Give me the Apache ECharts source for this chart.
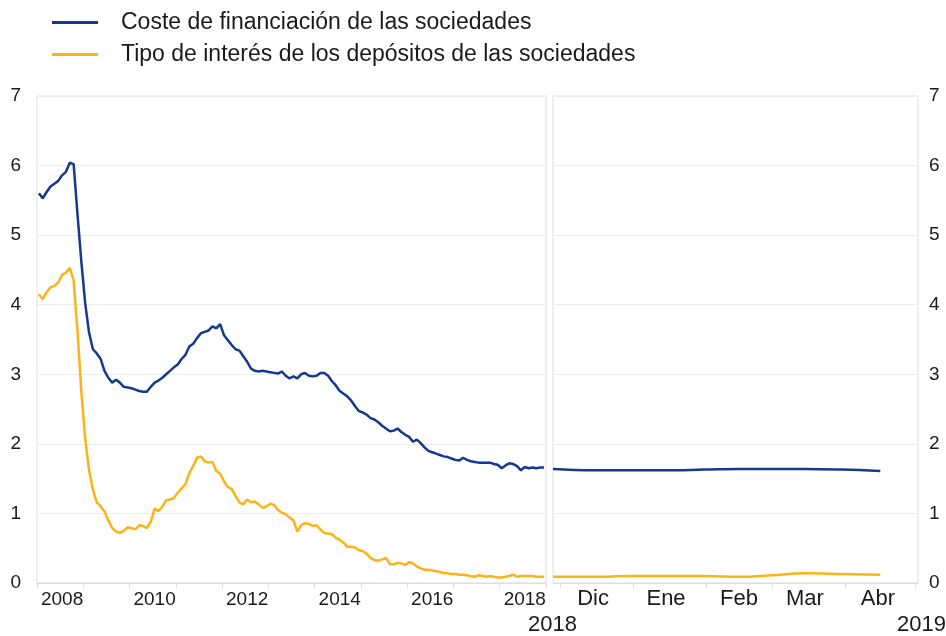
<!DOCTYPE html>
<html>
<head>
<meta charset="utf-8">
<script src="https://cdn.jsdelivr.net/npm/echarts@6/dist/echarts.min.js"></script>
<style>
  html, body { margin: 0; padding: 0; background: #ffffff; }
  #chart { width: 946px; height: 636px; }
</style>
</head>
<body>
<div id="chart"></div>
<script>
// Monthly series, January 2008 to December 2018 (percentages)
const firstYear = 2008;
const lastYear = 2018;

const costFinancing = [
  5.60, 5.53, 5.62, 5.70, 5.74, 5.78, 5.86, 5.91, 6.04, 6.02, 5.30, 4.62,
  4.02, 3.60, 3.36, 3.30, 3.22, 3.05, 2.95, 2.88, 2.92, 2.88, 2.82, 2.81,
  2.80, 2.78, 2.76, 2.75, 2.75, 2.82, 2.88, 2.91, 2.95, 3.00, 3.05, 3.10,
  3.14, 3.22, 3.28, 3.40, 3.44, 3.52, 3.59, 3.61, 3.63, 3.69, 3.66, 3.72,
  3.56, 3.49, 3.42, 3.36, 3.34, 3.26, 3.18, 3.08, 3.05, 3.04, 3.05, 3.04,
  3.03, 3.02, 3.01, 3.04, 2.98, 2.94, 2.97, 2.94, 3.00, 3.02, 2.98, 2.97,
  2.98, 3.02, 3.02, 2.98, 2.90, 2.84, 2.76, 2.72, 2.68, 2.62, 2.54, 2.47,
  2.45, 2.42, 2.37, 2.35, 2.31, 2.26, 2.22, 2.18, 2.19, 2.22, 2.17, 2.13,
  2.10, 2.03, 2.06, 2.01, 1.95, 1.90, 1.88, 1.86, 1.84, 1.82, 1.81, 1.79,
  1.77, 1.76, 1.80, 1.77, 1.75, 1.74, 1.73, 1.73, 1.73, 1.73, 1.71, 1.70,
  1.65, 1.69, 1.72, 1.71, 1.68, 1.62, 1.67, 1.65, 1.66, 1.65, 1.66, 1.66
];

const depositRate = [
  4.15, 4.08, 4.18, 4.25, 4.27, 4.32, 4.43, 4.46, 4.53, 4.35, 3.62, 2.75,
  2.08, 1.62, 1.34, 1.16, 1.10, 1.03, 0.90, 0.79, 0.74, 0.72, 0.75, 0.80,
  0.79, 0.77, 0.83, 0.82, 0.79, 0.88, 1.07, 1.03, 1.10, 1.19, 1.20, 1.22,
  1.30, 1.36, 1.42, 1.58, 1.68, 1.80, 1.82, 1.75, 1.73, 1.74, 1.61, 1.57,
  1.46, 1.38, 1.35, 1.25, 1.16, 1.13, 1.20, 1.16, 1.17, 1.13, 1.08, 1.10,
  1.14, 1.12, 1.05, 1.01, 0.99, 0.94, 0.90, 0.74, 0.83, 0.86, 0.85, 0.82,
  0.83, 0.77, 0.72, 0.71, 0.70, 0.65, 0.62, 0.58, 0.52, 0.52, 0.51, 0.47,
  0.46, 0.42, 0.36, 0.33, 0.32, 0.34, 0.36, 0.27, 0.27, 0.29, 0.28, 0.26,
  0.30, 0.28, 0.24, 0.21, 0.19, 0.19, 0.18, 0.17, 0.16, 0.14, 0.14, 0.13,
  0.13, 0.12, 0.12, 0.11, 0.10, 0.09, 0.11, 0.10, 0.09, 0.10, 0.09, 0.08,
  0.08, 0.09, 0.10, 0.12, 0.09, 0.10, 0.10, 0.10, 0.10, 0.09, 0.09, 0.09
];

// Recent observations, end of November 2018 to mid-April 2019
const recentDates = [
  '2018-11-28', '2018-12-15', '2018-12-31', '2019-01-15', '2019-01-31',
  '2019-02-15', '2019-03-01', '2019-03-15', '2019-03-31', '2019-04-16'
];
const recentCost    = [1.64, 1.62, 1.62, 1.62, 1.63, 1.64, 1.64, 1.64, 1.63, 1.61];
const recentDeposit = [0.09, 0.09, 0.10, 0.10, 0.10, 0.09, 0.11, 0.14, 0.13, 0.12];

// Labels for the recent panel
const monthLabelDates = ['2018-12-15', '2019-01-15', '2019-02-15', '2019-03-15', '2019-04-15'];
const monthLabelNames = ['Dic', 'Ene', 'Feb', 'Mar', 'Abr'];
const monthStartDates = ['2018-12-01', '2019-01-01', '2019-02-01', '2019-03-01', '2019-04-01', '2019-05-01'];

const seriesNames = [
  'Coste de financiación de las sociedades',
  'Tipo de interés de los depósitos de las sociedades'
];

const BLUE = '#17388f';
const YELLOW = '#fbb417';
const GRID_LINE = '#ececec';
const BORDER = '#dedede';
const TEXT = '#1a1a1a';
const FONT = 'Liberation Sans, Arial, sans-serif';

// Month categories for the long-run panel
const monthCats = [];
for (let y = firstYear; y <= lastYear; y++) {
  for (let m = 1; m <= 12; m++) {
    monthCats.push(y + '-' + String(m).padStart(2, '0'));
  }
}

// Recent panel uses a numeric axis in days (UTC timestamps / 1 day)
const DAY = 86400000;
const toDay = s => Math.round(new Date(s + 'T00:00:00Z').getTime() / DAY);
const recentDays = recentDates.map(toDay);
const labelDays = monthLabelDates.map(toDay);

const chart = echarts.init(document.getElementById('chart'), null, { renderer: 'canvas' });

chart.setOption({
  backgroundColor: '#ffffff',
  animation: false,
  textStyle: { fontFamily: FONT },
  legend: {
    orient: 'vertical',
    left: 47,
    top: 6,
    itemWidth: 46,
    itemHeight: 3,
    itemGap: 9,
    icon: 'rect',
    data: seriesNames,
    textStyle: { fontSize: 23, color: TEXT, fontFamily: FONT, padding: [0, 0, 0, 18] }
  },
  grid: [
    { left: 37, top: 96, width: 509, height: 487, show: true, borderColor: BORDER, borderWidth: 1 },
    { left: 553, top: 96, width: 365, height: 487, show: true, borderColor: BORDER, borderWidth: 1 }
  ],
  xAxis: [
    {
      type: 'category',
      gridIndex: 0,
      data: monthCats,
      boundaryGap: true,
      axisLine: { lineStyle: { color: BORDER } },
      axisTick: {
        show: true,
        interval: i => i % 12 === 0,
        length: 5,
        lineStyle: { color: BORDER }
      },
      axisLabel: {
        interval: i => i % 24 === 6,
        formatter: v => v.slice(0, 4),
        fontSize: 19,
        color: TEXT,
        margin: 7
      },
      splitLine: { show: false }
    },
    {
      type: 'value',
      gridIndex: 1,
      min: toDay('2018-11-28'),
      max: toDay('2019-05-02'),
      axisLine: { lineStyle: { color: BORDER } },
      axisTick: {
        show: true,
        customValues: monthStartDates.map(toDay),
        length: 5,
        lineStyle: { color: BORDER }
      },
      axisLabel: {
        customValues: labelDays,
        formatter: v => {
          const i = labelDays.indexOf(v);
          return i >= 0 ? monthLabelNames[i] : '';
        },
        fontSize: 22,
        color: TEXT,
        margin: 5,
        showMinLabel: true,
        showMaxLabel: true,
        hideOverlap: false
      },
      splitLine: { show: false }
    }
  ],
  yAxis: [
    {
      type: 'value',
      gridIndex: 0,
      min: 0,
      max: 7,
      interval: 1,
      position: 'left',
      axisLine: { show: false },
      axisTick: { show: false },
      axisLabel: { fontSize: 19, color: TEXT, margin: 16 },
      splitLine: { lineStyle: { color: GRID_LINE, width: 1 } }
    },
    {
      type: 'value',
      gridIndex: 1,
      min: 0,
      max: 7,
      interval: 1,
      position: 'right',
      axisLine: { show: false },
      axisTick: { show: false },
      axisLabel: { fontSize: 19, color: TEXT, margin: 11 },
      splitLine: { lineStyle: { color: GRID_LINE, width: 1 } }
    }
  ],
  series: [
    {
      name: seriesNames[0], type: 'line', xAxisIndex: 0, yAxisIndex: 0,
      data: costFinancing, showSymbol: false, color: BLUE,
      lineStyle: { width: 2.5, color: BLUE }, z: 3
    },
    {
      name: seriesNames[1], type: 'line', xAxisIndex: 0, yAxisIndex: 0,
      data: depositRate, showSymbol: false, color: YELLOW,
      lineStyle: { width: 2.5, color: YELLOW }, z: 2
    },
    {
      name: seriesNames[0], type: 'line', xAxisIndex: 1, yAxisIndex: 1,
      data: recentDays.map((d, i) => [d, recentCost[i]]),
      showSymbol: false, smooth: 0.4, color: BLUE,
      lineStyle: { width: 2.5, color: BLUE }, z: 3
    },
    {
      name: seriesNames[1], type: 'line', xAxisIndex: 1, yAxisIndex: 1,
      data: recentDays.map((d, i) => [d, recentDeposit[i]]),
      showSymbol: false, smooth: 0.4, color: YELLOW,
      lineStyle: { width: 2.5, color: YELLOW }, z: 2
    }
  ],
  graphic: [
    {
      type: 'text', left: 553 - 25, top: 614,
      style: { text: '2018', fontSize: 22, fill: TEXT, fontFamily: FONT }
    },
    {
      type: 'text', right: 0, top: 614,
      style: { text: '2019', fontSize: 22, fill: TEXT, fontFamily: FONT }
    }
  ]
});
</script>
</body>
</html>
